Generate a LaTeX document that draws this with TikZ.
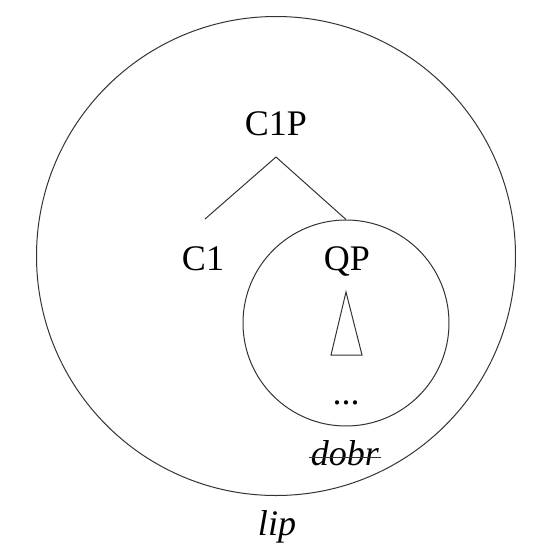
\documentclass[tikz,border=0pt]{standalone}
\usepackage{fontspec}
\setmainfont{Liberation Serif}
\usepackage{tikz}
\usetikzlibrary{positioning}
\tikzset{
  lblnode/.style={inner sep=0pt,anchor=base,font=\fontsize{36}{42}\selectfont},
  itnode/.style={lblnode,font=\fontsize{36}{42}\selectfont\itshape},
  bndcirc/.style={circle,draw=black!80,line width=1pt,inner sep=0pt},
  treeedge/.style={draw=black!80,line width=1pt},
}

\begin{document}
\begin{tikzpicture}[x=1pt,y=-1pt]
    \useasboundingbox (0,0) rectangle (547,552);
    \node[bndcirc,minimum size=479pt] (lipcirc) at (276,256) {};
    \node[bndcirc,minimum size=206pt] (dobrcirc) at (346,323) {};
    \node[lblnode] (C1P) at (276,135) {C1P};
    \node[lblnode] (C1) at (203,270) {C1};
    \node[lblnode] (QP) at (347,270) {QP};
    \node[lblnode] (dots) at (346,404) {...};
    \node[itnode] (dobr) at (345,465) {dobr};
    \node[itnode] (lip) at (277,535) {lip};
    \coordinate (apex) at (276,157);
    \coordinate (C1top) at (205,219);
    \coordinate (QPtop) at (dobrcirc.north);
    \draw[treeedge] (C1top) -- (apex) -- (QPtop);
    % triangle under QP
    \draw[treeedge] (346,292) -- (331,355) -- (362,355) -- cycle;
    % struck-out dobr
    \draw[treeedge] ([xshift=-2pt,yshift=8pt]dobr.base west) -- ([xshift=2pt,yshift=8pt]dobr.base east);
  \end{tikzpicture}
\end{document}
